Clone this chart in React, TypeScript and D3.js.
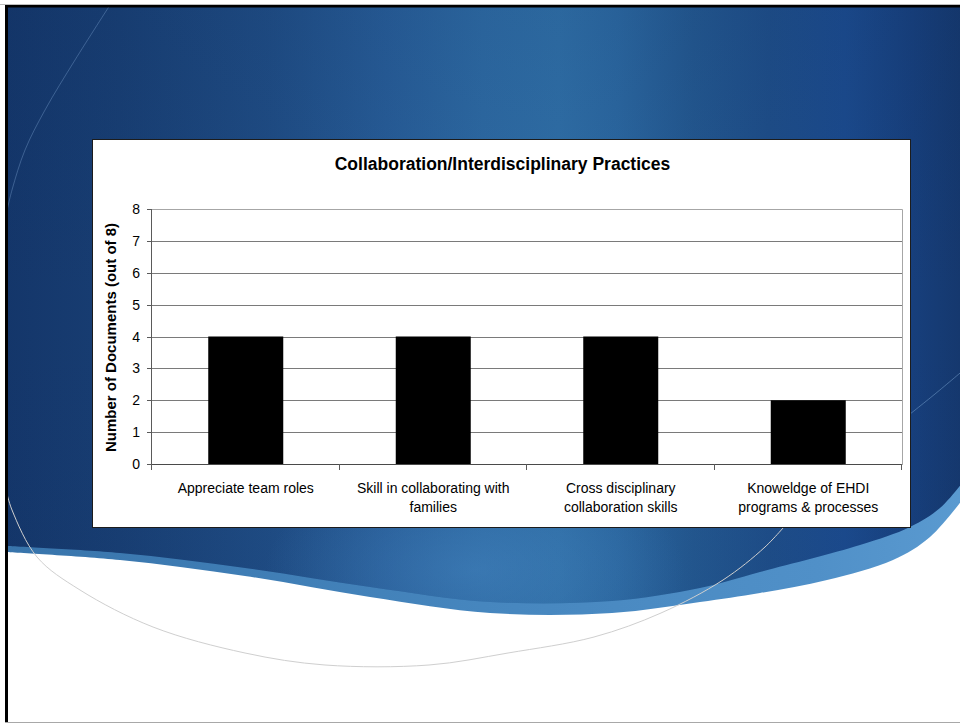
import React from 'react';
import * as d3 from 'd3';

// Chart content
const chartTitle = 'Collaboration/Interdisciplinary Practices';
const yAxisTitle = 'Number of Documents (out of 8)';
const categoryLines: string[][] = [
  ['Appreciate team roles'],
  ['Skill in collaborating with', 'families'],
  ['Cross disciplinary', 'collaboration skills'],
  ['Knoweldge of EHDI', 'programs & processes'],
];
const categories = categoryLines.map((l) => l.join(' '));
const documentCounts = [4, 4, 4, 2];
const yTicks = [0, 1, 2, 3, 4, 5, 6, 7, 8];
const yMax = 8;

const W = 960;
const H = 725;
const FONT = '"Liberation Sans", Arial, Helvetica, sans-serif';

// Slide backdrop geometry (decorative swoosh)
const swooshEdge: [number, number][] = [
  [5, 552], [120, 560], [245, 576], [370, 597], [490, 613], [612, 613],
  [700, 602], [760, 593], [827, 580], [893, 560], [930, 537], [966, 495],
];
const swooshInner: [number, number][] = [
  [5, 546], [120, 553], [245, 568], [370, 587], [490, 602], [612, 601],
  [700, 588], [760, 572], [860, 545], [910, 527], [940, 508], [966, 478],
];
const lowerArc: [number, number][] = [
  [6, 490], [12, 510], [37, 557], [80, 590], [153, 627], [245, 653], [325, 665],
  [429, 665], [508, 653], [594, 637], [661, 613], [723, 580], [765, 547], [790, 520],
];
const upperRightArc: [number, number][] = [
  [905, 418], [935, 394], [966, 368],
];
const upperLeftArc: [number, number][] = [
  [110, 5], [75, 60], [45, 110], [25, 150], [12, 190], [6, 215],
];

export default function App() {
  const panel = { x: 93, y: 140, w: 818, h: 388 };
  const plot = { left: 152, right: 902, top: 209, bottom: 464 };

  const x = d3
    .scaleBand<string>()
    .domain(categories)
    .range([plot.left, plot.right])
    .paddingInner(0.6)
    .paddingOuter(0.3);
  const y = d3.scaleLinear().domain([0, yMax]).range([plot.bottom, plot.top]);
  const step = x.step();
  const separators = d3.range(categories.length + 1).map((i) => plot.left + i * step);

  const curve = d3.line().curve(d3.curveCatmullRom.alpha(0.5));
  // Closed regions: from the top of the slide down to each swoosh curve
  const edgeRev = curve([...swooshEdge].reverse()) as string;
  const innerRev = curve([...swooshInner].reverse()) as string;
  const lightArea = `M5,5 L966,5 ${edgeRev.replace(/^M/, 'L')} Z`;
  const darkArea = `M5,5 L966,5 ${innerRev.replace(/^M/, 'L')} Z`;

  return (
    <div style={{ position: 'absolute', left: 0, top: 0 }}>
      <svg width={W} height={H} viewBox={`0 0 ${W} ${H}`} style={{ display: 'block' }}>
        <defs>
          <linearGradient id="sky" gradientUnits="userSpaceOnUse" x1={5} y1={0} x2={960} y2={0}>
            <stop offset="0" stopColor="#14366a" />
            <stop offset="0.12" stopColor="#183e73" />
            <stop offset="0.28" stopColor="#1f4c84" />
            <stop offset="0.4" stopColor="#275c97" />
            <stop offset="0.5" stopColor="#2d69a2" />
            <stop offset="0.58" stopColor="#2f6ea6" />
            <stop offset="0.64" stopColor="#2b67a0" />
            <stop offset="0.72" stopColor="#23578f" />
            <stop offset="0.8" stopColor="#1e4d88" />
            <stop offset="0.88" stopColor="#1b4a8d" />
            <stop offset="0.95" stopColor="#173f7c" />
            <stop offset="1" stopColor="#15386e" />
          </linearGradient>
          <linearGradient id="band" gradientUnits="userSpaceOnUse" x1={5} y1={0} x2={960} y2={0}>
            <stop offset="0" stopColor="#3874ab" />
            <stop offset="0.5" stopColor="#4686be" />
            <stop offset="0.85" stopColor="#5090c8" />
            <stop offset="1" stopColor="#5a9ad0" />
          </linearGradient>
          <radialGradient id="glow" gradientUnits="userSpaceOnUse" cx={475} cy={570} r={210}
            gradientTransform="translate(475 570) scale(1 0.5) translate(-475 -570)">
            <stop offset="0" stopColor="#4a8cc8" stopOpacity={0.45} />
            <stop offset="0.6" stopColor="#4a8cc8" stopOpacity={0.18} />
            <stop offset="1" stopColor="#4a8cc8" stopOpacity={0} />
          </radialGradient>
          <linearGradient id="shade" gradientUnits="userSpaceOnUse" x1={0} y1={5} x2={0} y2={600}>
            <stop offset="0" stopColor="#0c2a55" stopOpacity={0.1} />
            <stop offset="0.5" stopColor="#0c2a55" stopOpacity={0} />
            <stop offset="1" stopColor="#0c2a55" stopOpacity={0.04} />
          </linearGradient>
          <clipPath id="darkClip">
            <path d={darkArea} />
          </clipPath>
        </defs>

        {/* slide */}
        <rect x={0} y={0} width={W} height={H} fill="#ffffff" />
        <path d={lightArea} fill="url(#band)" />
        <path d={darkArea} fill="url(#sky)" />
        <g clipPath="url(#darkClip)">
          <rect x={5} y={5} width={960} height={620} fill="url(#shade)" />
          <rect x={240} y={440} width={470} height={200} fill="url(#glow)" />
        </g>

        {/* thin decorative arcs */}
        <path d={curve(lowerArc) as string} fill="none" stroke="#cfcfcf" strokeWidth={1} />
        <path d={curve(upperRightArc) as string} fill="none" stroke="#7aa4d0" strokeOpacity={0.5} strokeWidth={1} />
        <path d={curve(upperLeftArc) as string} fill="none" stroke="#6f95c4" strokeOpacity={0.45} strokeWidth={1} />

        {/* chart panel */}
        <rect x={panel.x - 0.5} y={panel.y - 0.5} width={panel.w} height={panel.h} fill="#ffffff" stroke="#1c1c1c" strokeWidth={1} />

        <text x={panel.x + panel.w / 2 + 0.5} y={170} textAnchor="middle" fontFamily={FONT} fontWeight="bold" fontSize={17.5} fill="#000">
          {chartTitle}
        </text>

        {/* gridlines */}
        {yTicks.filter((t) => t > 0 && t < yMax).map((t) => (
          <line key={`g${t}`} x1={plot.left} x2={plot.right} y1={Math.round(y(t)) + 0.5} y2={Math.round(y(t)) + 0.5} stroke="#7a7a7a" strokeWidth={1} />
        ))}
        {/* plot area border (top and right) */}
        <path
          d={`M${plot.left},${plot.top + 0.5} H${plot.right + 0.5} V${plot.bottom}`}
          fill="none"
          stroke="#a6a6a6"
          strokeWidth={1}
        />

        {/* bars */}
        {categories.map((c, i) => (
          <rect key={c} x={x(c)} y={y(documentCounts[i])} width={x.bandwidth()} height={y(0) - y(documentCounts[i])} fill="#000000" />
        ))}

        {/* y axis */}
        <line x1={plot.left - 0.5} x2={plot.left - 0.5} y1={plot.top} y2={plot.bottom + 0.5} stroke="#5a5a5a" strokeWidth={1} />
        {yTicks.map((t) => (
          <g key={`t${t}`}>
            <line x1={plot.left - 5} x2={plot.left} y1={Math.round(y(t)) + 0.5} y2={Math.round(y(t)) + 0.5} stroke="#5a5a5a" strokeWidth={1} />
            <text x={140} y={y(t)} dy="0.36em" textAnchor="end" fontFamily={FONT} fontSize={14} fill="#000">
              {t}
            </text>
          </g>
        ))}
        <text
          transform={`translate(116, ${(plot.top + plot.bottom) / 2 + 1}) rotate(-90)`}
          textAnchor="middle"
          fontFamily={FONT}
          fontWeight="bold"
          fontSize={15}
          fill="#000"
        >
          {yAxisTitle}
        </text>

        {/* x axis */}
        <line x1={plot.left - 0.5} x2={plot.right + 0.5} y1={plot.bottom + 0.5} y2={plot.bottom + 0.5} stroke="#4a4a4a" strokeWidth={1} />
        {separators.map((sx, i) => (
          <line key={`s${i}`} x1={Math.round(sx) - 0.5} x2={Math.round(sx) - 0.5} y1={plot.bottom} y2={plot.bottom + 6} stroke="#5a5a5a" strokeWidth={1} />
        ))}
        {categories.map((c, i) => (
          <text key={`l${c}`} x={(x(c) as number) + x.bandwidth() / 2} y={492.5} textAnchor="middle" fontFamily={FONT} fontSize={14} fill="#000">
            {categoryLines[i].map((line, j) => (
              <tspan key={j} x={(x(c) as number) + x.bandwidth() / 2} dy={j === 0 ? 0 : 19}>
                {line}
              </tspan>
            ))}
          </text>
        ))}

        {/* slide frame */}
        <line x1={0} x2={W} y1={4.5} y2={4.5} stroke="#bdbdbd" strokeWidth={1} />
        <rect x={5} y={5} width={W - 5} height={2.5} fill="#000" />
        <rect x={5} y={5} width={3} height={718} fill="#000" />
        <line x1={5} x2={W} y1={722.5} y2={722.5} stroke="#a8a8a8" strokeWidth={1} />
      </svg>
    </div>
  );
}
